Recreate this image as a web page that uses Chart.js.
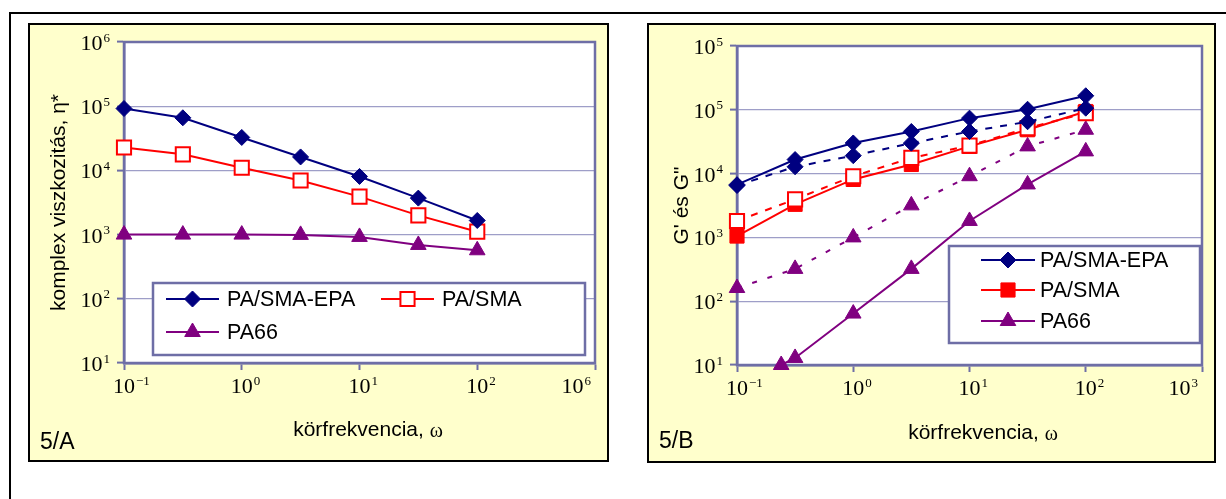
<!DOCTYPE html>
<html>
<head>
<meta charset="utf-8">
<script src="https://cdn.jsdelivr.net/npm/chart.js@4.4.1/dist/chart.umd.min.js"></script>
<style>
  body { margin: 0; background: #fff; width: 1226px; height: 499px; overflow: hidden; position: relative; }
  #frame { position: absolute; left: 9px; top: 12px; width: 1230px; height: 500px; border-left: 2px solid #000; border-top: 2px solid #000; }
  .panel { position: absolute; background: #ffffcc; border: 2px solid #000; box-sizing: border-box; }
  #panelA { left: 28px; top: 23px; width: 581px; height: 439px; }
  #panelB { left: 647px; top: 23px; width: 569px; height: 440px; }
  .panel canvas { display: block; }
</style>
</head>
<body>
<div id="frame"></div>
<div class="panel" id="panelA"><canvas id="chartA" width="577" height="435"></canvas></div>
<div class="panel" id="panelB"><canvas id="chartB" width="565" height="436"></canvas></div>
<script>
// frequencies (rad/s)
const freq = [0.1, 0.316, 1, 3.16, 10, 31.6, 100];
const freqPa66G = [0.24, 0.316, 1, 3.16, 10, 31.6, 100];

// 5/A - complex viscosity
const etaEpa = [92000, 66000, 32600, 16200, 8050, 3700, 1660];
const etaSma = [22700, 17800, 11000, 6970, 3900, 1990, 1110];
const etaPa66 = [1000, 1000, 1000, 990, 920, 690, 570];

// 5/B - G' (solid) and G'' (dashed)
const gEpa = [6700, 16600, 30200, 45700, 74000, 102000, 166000];
const gEpa2 = [6500, 12800, 19100, 30000, 45700, 65000, 106000];
const gSma = [1050, 3300, 8100, 13900, 26700, 48700, 94000];
const gSma2 = [1810, 3950, 9100, 17600, 27400, 51700, 88500];
const gPa66 = [10, 12.9, 64, 321, 1810, 6760, 22300];
const gPa66b = [161, 321, 1000, 3180, 9100, 26700, 48700];

// ticks (labels are powers of ten, exponents as printed)
const xTickValues = [0.1, 1, 10, 100, 1000];
const yTickValues = [10, 100, 1000, 10000, 100000, 1000000];
const xTickExpA = ['\u22121', '0', '1', '2', '6'];
const yTickExpA = ['1', '2', '3', '4', '5', '6'];
const xTickExpB = ['\u22121', '0', '1', '2', '3'];
const yTickExpB = ['1', '2', '3', '4', '5', '5'];

const NAVY = '#000080';
const RED = '#ff0000';
const PURPLE = '#800080';
const AXIS = '#6e6ea6';
const GRID = '#9e9ec8';
const SANS = '"Liberation Sans", Arial, sans-serif';
const SERIF = '"Liberation Serif", "Times New Roman", serif';

function pts(xs, ys) {
    return xs.map((x, i) => ({ x: x, y: ys[i] }));
}

function series(label, xs, ys, color, style, radius, fill, dash, inLegend) {
    return {
        label: label,
        data: pts(xs, ys),
        borderColor: color,
        backgroundColor: color,
        borderWidth: 2,
        borderDash: dash || [],
        pointStyle: style,
        pointRadius: radius,
        pointHoverRadius: radius,
        pointBackgroundColor: fill,
        pointBorderColor: color,
        pointBorderWidth: style === 'rect' && fill === '#ffffff' ? 2 : 1,
        tension: 0,
        fill: false,
        clip: false,
        inLegend: inLegend,
    };
}

// "10" with a raised exponent
function drawPow(ctx, exp, x, baseY, anchor) {
    ctx.font = '22px ' + SERIF;
    const wb = ctx.measureText('10').width;
    ctx.font = '13px ' + SERIF;
    const we = ctx.measureText(exp).width;
    let left;
    if (anchor === 'center') left = x - wb / 2;
    else left = x - wb - 1 - we;
    ctx.font = '22px ' + SERIF;
    ctx.fillText('10', left, baseY);
    ctx.font = '13px ' + SERIF;
    ctx.fillText(exp, left + wb + 1, baseY - 8.5);
}

const panelDecor = {
    id: 'panelDecor',
    beforeDraw(chart) {
        const { ctx, chartArea: a } = chart;
        ctx.save();
        ctx.fillStyle = '#ffffff';
        ctx.fillRect(a.left, a.top, a.right - a.left, a.bottom - a.top);
        ctx.restore();
    },
    beforeDatasetsDraw(chart) {
        const { ctx, chartArea: a } = chart;
        ctx.save();
        ctx.strokeStyle = AXIS;
        ctx.lineWidth = 2.5;
        ctx.strokeRect(a.left, a.top, a.right - a.left, a.bottom - a.top);
        ctx.restore();
    },
    afterDatasetsDraw(chart, args, opts) {
        const ctx = chart.ctx;
        const lg = opts.legend;
        ctx.save();
        ctx.fillStyle = '#ffffff';
        ctx.fillRect(lg.box[0], lg.box[1], lg.box[2], lg.box[3]);
        ctx.strokeStyle = AXIS;
        ctx.lineWidth = 2.5;
        ctx.strokeRect(lg.box[0], lg.box[1], lg.box[2], lg.box[3]);
        const shown = chart.data.datasets.filter(ds => ds.inLegend);
        shown.forEach((ds, i) => {
            const [x, y] = lg.items[i];
            ctx.strokeStyle = ds.borderColor;
            ctx.lineWidth = 2;
            ctx.setLineDash([]);
            ctx.beginPath();
            ctx.moveTo(x, y);
            ctx.lineTo(x + lg.lineLen, y);
            ctx.stroke();
            ctx.fillStyle = ds.pointBackgroundColor;
            ctx.strokeStyle = ds.pointBorderColor;
            ctx.lineWidth = ds.pointBorderWidth;
            Chart.helpers.drawPoint(ctx, { pointStyle: ds.pointStyle, radius: ds.pointRadius, rotation: 0, borderWidth: ds.pointBorderWidth }, x + lg.lineLen / 2, y);
            ctx.fillStyle = '#000';
            ctx.font = '21.5px ' + SANS;
            ctx.textBaseline = 'middle';
            ctx.textAlign = 'left';
            ctx.fillText(ds.label, x + lg.textGap, y + 1);
        });
        ctx.restore();
    },
    afterDraw(chart, args, opts) {
        const ctx = chart.ctx;
        const xs = chart.scales.x;
        const ys = chart.scales.y;
        ctx.save();
        ctx.fillStyle = '#000';
        ctx.textAlign = 'left';
        ctx.textBaseline = 'alphabetic';
        // tick labels
        xs.ticks.forEach((t, i) => {
            const px = xs.getPixelForValue(t.value);
            const last = i === xs.ticks.length - 1;
            drawPow(ctx, opts.xExp[i], last ? px - 4 : px, xs.top + 30, last ? 'right' : 'center');
        });
        ys.ticks.forEach((t, i) => {
            const py = ys.getPixelForValue(t.value);
            drawPow(ctx, opts.yExp[i], ys.right - 14, py + 8, 'right');
        });
        // x axis title, omega in serif
        ctx.textBaseline = 'middle';
        const main = 'körfrekvencia, ';
        ctx.font = '21px ' + SANS;
        const w1 = ctx.measureText(main).width;
        ctx.font = '20px ' + SERIF;
        const w2 = ctx.measureText('ω').width;
        const x0 = opts.xTitle[0] - (w1 + w2) / 2;
        ctx.font = '21px ' + SANS;
        ctx.fillText(main, x0, opts.xTitle[1]);
        ctx.font = '20px ' + SERIF;
        ctx.fillText('ω', x0 + w1, opts.xTitle[1] + 2);
        // panel tag
        ctx.font = '23px ' + SANS;
        ctx.textBaseline = 'alphabetic';
        ctx.fillText(opts.tag, opts.tagPos[0], opts.tagPos[1]);
        ctx.restore();
    },
};

function axes(yTitle, yWidth) {
    return {
        x: {
            type: 'logarithmic',
            min: 0.1,
            max: 1000,
            afterBuildTicks: s => { s.ticks = xTickValues.map(v => ({ value: v })); },
            afterFit: s => { s.height = 60; s.paddingLeft = 0; s.paddingRight = 0; },
            ticks: { display: false },
            grid: { drawOnChartArea: false, tickColor: AXIS, tickLength: 7, tickWidth: 2 },
            border: { color: AXIS, width: 2.5 },
        },
        y: {
            type: 'logarithmic',
            min: 10,
            max: 1000000,
            afterBuildTicks: s => { s.ticks = yTickValues.map(v => ({ value: v })); },
            afterFit: s => { s.width = yWidth; s.paddingTop = 0; s.paddingBottom = 0; },
            ticks: { display: false },
            grid: { color: GRID, lineWidth: 1.2, tickColor: AXIS, tickLength: 7, tickWidth: 2 },
            border: { color: AXIS, width: 2.5 },
            title: { display: true, text: yTitle, font: { family: SANS, size: 21 }, color: '#000', padding: 0 },
        },
    };
}

new Chart(document.getElementById('chartA'), {
    type: 'line',
    data: {
        datasets: [
            series('PA/SMA-EPA', freq, etaEpa, NAVY, 'rectRot', 8, NAVY, null, true),
            series('PA/SMA', freq, etaSma, RED, 'rect', 10, '#ffffff', null, true),
            series('PA66', freq, etaPa66, PURPLE, 'triangle', 9, PURPLE, null, true),
        ],
    },
    options: {
        responsive: false,
        animation: false,
        events: [],
        layout: { padding: { left: 17, top: 17, right: 12, bottom: 37 } },
        scales: axes('komplex viszkozitás, η*', 77),
        plugins: {
            legend: { display: false },
            tooltip: { enabled: false },
            panelDecor: {
                legend: { box: [123, 258, 432, 72], items: [[136, 274], [351, 274], [136, 307]], lineLen: 53, textGap: 61 },
                xTitle: [338, 405],
                xExp: xTickExpA,
                yExp: yTickExpA,
                tag: '5/A',
                tagPos: [10, 424],
            },
        },
    },
    plugins: [panelDecor],
});

new Chart(document.getElementById('chartB'), {
    type: 'line',
    data: {
        datasets: [
            series("PA/SMA-EPA G''", freq, gEpa2, NAVY, 'rectRot', 8, NAVY, [7, 8], false),
            series('PA/SMA-EPA', freq, gEpa, NAVY, 'rectRot', 8, NAVY, null, true),
            series("PA/SMA G''", freq, gSma2, RED, 'rect', 10, '#ffffff', [7, 8], false),
            series('PA/SMA', freq, gSma, RED, 'rect', 10, RED, null, true),
            series("PA66 G''", freq, gPa66b, PURPLE, 'triangle', 9, PURPLE, [5, 11], false),
            series('PA66', freqPa66G, gPa66, PURPLE, 'triangle', 9, PURPLE, null, true),
        ],
    },
    options: {
        responsive: false,
        animation: false,
        events: [],
        layout: { padding: { left: 21, top: 21, right: 11, bottom: 36 } },
        scales: axes('G\' és G"', 67),
        plugins: {
            legend: { display: false },
            tooltip: { enabled: false },
            panelDecor: {
                legend: { box: [300, 221, 251, 97], items: [[332, 235], [332, 265], [332, 296]], lineLen: 54, textGap: 59 },
                xTitle: [334, 408],
                xExp: xTickExpB,
                yExp: yTickExpB,
                tag: '5/B',
                tagPos: [10, 423],
            },
        },
    },
    plugins: [panelDecor],
});
</script>
</body>
</html>
